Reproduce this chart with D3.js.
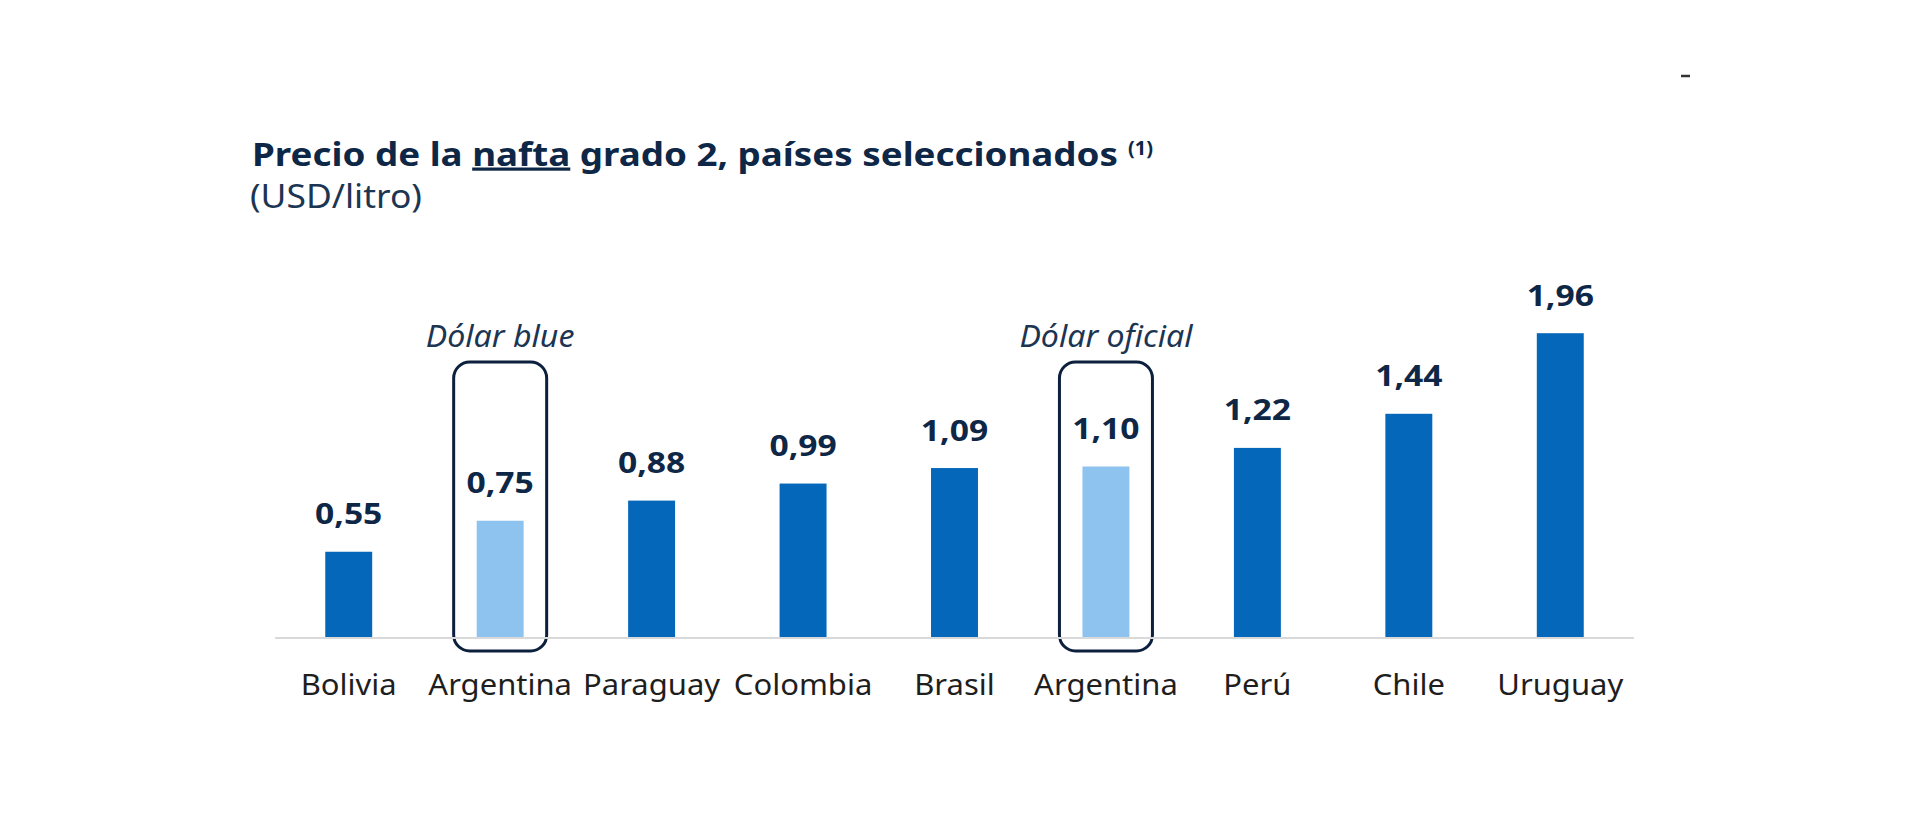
<!DOCTYPE html>
<html>
<head>
<meta charset="utf-8">
<script src="https://cdn.jsdelivr.net/npm/d3@7"></script>
<style>
  html, body { margin: 0; padding: 0; background: #ffffff; }
  svg { display: block; }
</style>
</head>
<body>
<svg id="chart" width="1920" height="813"></svg>
<script>
const categories = ["Bolivia", "Argentina", "Paraguay", "Colombia", "Brasil", "Argentina", "Perú", "Chile", "Uruguay"];
const values = [0.55, 0.75, 0.88, 0.99, 1.09, 1.10, 1.22, 1.44, 1.96];
const highlighted = [false, true, false, false, false, true, false, false, false];
const annotations = [
  { index: 1, label: "Dólar blue" },
  { index: 5, label: "Dólar oficial" }
];
const titleText = ["Precio de la ", "nafta", " grado 2, países seleccionados"];
const titleNote = "(1)";
const subtitleText = "(USD/litro)";

const svg = d3.select("#chart");
const FONT = "'Noto Sans', 'Open Sans', sans-serif";
const navy = "#0e2747";
const darkBar = "#0467b9";
const lightBar = "#8dc3ee";

function stretch(sel, factor) {
  sel.each(function() {
    const w = this.getComputedTextLength();
    d3.select(this).attr("textLength", w * factor).attr("lengthAdjust", "spacingAndGlyphs");
  });
}

const x = d3.scaleBand().domain(d3.range(categories.length)).range([273, 1636]).padding(0);
const y = d3.scaleLinear().domain([0, 2]).range([637, 327]);
const barW = x.bandwidth() * 0.31;

// Title
const title = svg.append("text")
  .attr("x", 252).attr("y", 165.5)
  .attr("font-family", FONT).attr("font-weight", 700)
  .attr("font-size", 32).attr("fill", navy);
titleText.forEach((t, i) => {
  const ts = title.append("tspan").text(t);
  if (i === 1) ts.attr("text-decoration", "underline");
});
title.attr("textLength", 866).attr("lengthAdjust", "spacingAndGlyphs");

svg.append("text")
  .attr("x", 1128).attr("y", 155)
  .attr("font-family", FONT).attr("font-weight", 700)
  .attr("font-size", 20).attr("fill", navy)
  .text(titleNote);

const sub = svg.append("text")
  .attr("x", 250).attr("y", 207.5)
  .attr("font-family", FONT).attr("font-weight", 400)
  .attr("font-size", 32).attr("fill", "#1c3553")
  .text(subtitleText);
sub.attr("textLength", 172).attr("lengthAdjust", "spacingAndGlyphs");

// small mark top right
svg.append("line").attr("x1", 1681).attr("x2", 1690).attr("y1", 76).attr("y2", 76)
  .attr("stroke", "#333").attr("stroke-width", 2.5);

// annotation boxes
const ann = svg.append("g");
annotations.forEach(a => {
  const cx = x(a.index) + x.bandwidth() / 2;
  ann.append("rect")
    .attr("x", cx - 46.5).attr("y", 362)
    .attr("width", 93).attr("height", 289)
    .attr("rx", 16).attr("ry", 16)
    .attr("fill", "none").attr("stroke", "#0c1f3d").attr("stroke-width", 3);
  const t = ann.append("text")
    .attr("x", cx).attr("y", 346.5)
    .attr("text-anchor", "middle")
    .attr("font-family", FONT).attr("font-style", "italic")
    .attr("font-size", 30).attr("fill", "#1c3553")
    .text(a.label);
  stretch(t, 1.07);
});

// bars
svg.append("g").selectAll("rect").data(values).join("rect")
  .attr("x", (d, i) => x(i) + x.bandwidth() / 2 - barW / 2)
  .attr("y", d => y(d))
  .attr("width", barW)
  .attr("height", d => y(0) - y(d))
  .attr("fill", (d, i) => highlighted[i] ? lightBar : darkBar);

// axis line
svg.append("line")
  .attr("x1", 275).attr("x2", 1634)
  .attr("y1", y(0) + 1).attr("y2", y(0) + 1)
  .attr("stroke", "#d9d9d9").attr("stroke-width", 2);

// value labels
const vl = svg.append("g").selectAll("text").data(values).join("text")
  .attr("x", (d, i) => x(i) + x.bandwidth() / 2)
  .attr("y", d => y(d) - 27.5)
  .attr("text-anchor", "middle")
  .attr("font-family", FONT).attr("font-weight", 700)
  .attr("font-size", 28).attr("fill", navy)
  .text(d => d3.format(".2f")(d).replace(".", ","));
stretch(vl, 1.2);

// category labels
const cl = svg.append("g").selectAll("text").data(categories).join("text")
  .attr("x", (d, i) => x(i) + x.bandwidth() / 2)
  .attr("y", 694.5)
  .attr("text-anchor", "middle")
  .attr("font-family", FONT).attr("font-weight", 400)
  .attr("font-size", 29.5).attr("fill", "#1e1e1e")
  .text(d => d);
stretch(cl, 1.05);
</script>
</body>
</html>
